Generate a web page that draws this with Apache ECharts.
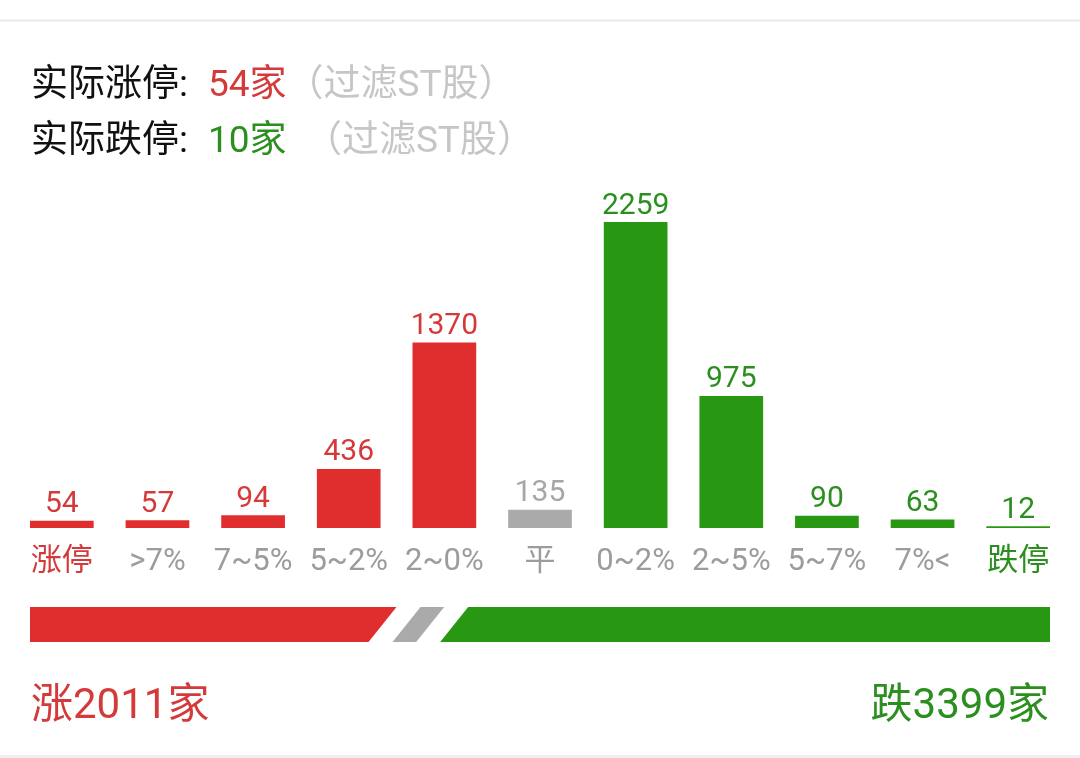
<!DOCTYPE html>
<html><head><meta charset="utf-8">
<script src="https://cdn.jsdelivr.net/npm/echarts@6/dist/echarts.min.js"></script>
<style>html,body{margin:0;padding:0;background:#fff}#c{width:1080px;height:758px}</style>
</head><body><div id="c"></div>
<script>
// ---- data ----
const categories = ['涨停', '>7%', '7~5%', '5~2%', '2~0%', '平', '0~2%', '2~5%', '5~7%', '7%<', '跌停'];
const counts = [54, 57, 94, 436, 1370, 135, 2259, 975, 90, 63, 12];
const actualLimitUp = 54;    // 实际涨停 (过滤ST股)
const actualLimitDown = 10;  // 实际跌停 (过滤ST股)
const flatLabel = '平';

// ---- derived ----
const flatIdx = categories.indexOf(flatLabel);
const upTotal = counts.slice(0, flatIdx).reduce((a, b) => a + b, 0);
const flatTotal = counts[flatIdx];
const downTotal = counts.slice(flatIdx + 1).reduce((a, b) => a + b, 0);
const totals = [upTotal, flatTotal, downTotal];
const splitData = [];
let acc = 0;
totals.forEach((v, i) => { splitData.push([acc, acc + v, i]); acc += v; });

// ---- styles ----
const RED = '#e02e2e', GREEN = '#289812', GRAY = '#aaaaaa';
const RED_T = '#d43a3a', GREEN_T = '#2b8f1f', GRAY_T = '#a6a6a6';
const FONT = 'Roboto, "Noto Sans CJK SC", sans-serif';
const FW = 'normal';
const sideColor = i => i < flatIdx ? RED : (i === flatIdx ? GRAY : GREEN);
const valueColor = i => i < flatIdx ? RED_T : (i === flatIdx ? GRAY_T : GREEN_T);

const chart = echarts.init(document.getElementById('c'), null, { renderer: 'canvas' });
const rs = (c, pad) => ({ fontSize: 37, color: c, fontFamily: FONT, fontWeight: FW, padding: pad || 0 });
const richTitle = { b: rs('#111111'), r: rs(RED_T, [0, 0, 0, 20]), gr: rs(GREEN_T, [0, 0, 0, 20]), g: rs('#c6c6c6') };
const option = {
  backgroundColor: '#ffffff',
  animation: false,
  textStyle: { fontFamily: FONT },
  title: [
    { left: 31, top: 68, padding: 0, text: `{b|实际涨停:}{r|${actualLimitUp}家}{g|（过滤ST股）}`, textStyle: { fontWeight: FW, rich: richTitle } },
    { left: 31, top: 124, padding: 0, text: `{b|实际跌停:}{gr|${actualLimitDown}家}{g|  （过滤ST股）}`, textStyle: { fontWeight: FW, rich: richTitle } },
    { left: 31, top: 686, padding: 0, text: `涨${upTotal}家`, textStyle: { fontSize: 42, fontWeight: FW, color: RED_T, fontFamily: FONT } },
    { right: 31, top: 686, padding: 0, text: `跌${downTotal}家`, textStyle: { fontSize: 42, fontWeight: FW, color: GREEN_T, fontFamily: FONT } }
  ],
  grid: [
    { left: 14, right: 14, top: 222, bottom: 230 },
    { left: 30, right: 30, top: 607, height: 35 }
  ],
  xAxis: [
    {
      type: 'category', gridIndex: 0, data: categories,
      axisLine: { show: false }, axisTick: { show: false }, splitLine: { show: false },
      axisLabel: {
        interval: 0, fontSize: 31, margin: 19, fontFamily: FONT, fontWeight: FW,
        color: (v, i) => i === 0 ? RED_T : (i === categories.length - 1 ? GREEN_T : '#9c9c9c')
      }
    },
    { type: 'value', gridIndex: 1, min: 0, max: acc, show: false }
  ],
  yAxis: [
    { type: 'value', gridIndex: 0, min: 0, max: Math.max(...counts), show: false },
    { type: 'category', gridIndex: 1, data: [''], show: false }
  ],
  series: [
    {
      type: 'bar', xAxisIndex: 0, yAxisIndex: 0, barWidth: '66.6%',
      data: counts.map((v, i) => ({ value: v, itemStyle: { color: sideColor(i) }, label: { color: valueColor(i) } })),
      label: { show: true, position: 'top', distance: 1, fontSize: 30, fontFamily: FONT, fontWeight: FW }
    },
    {
      type: 'custom', xAxisIndex: 1, yAxisIndex: 1, data: splitData,
      renderItem: function (params, api) {
        const cs = params.coordSys;
        const G = 24, S = 28;
        const n = totals.length;
        const scale = (cs.width - (n - 1) * G) / cs.width;
        const i = api.value(2);
        const px = v => cs.x + (api.coord([v, 0])[0] - cs.x) * scale + i * G;
        const x0 = px(api.value(0)), x1 = px(api.value(1));
        const top = cs.y, bot = cs.y + cs.height;
        let pts;
        if (i === 0) pts = [[x0, top], [x1 + S / 2, top], [x1 - S / 2, bot], [x0, bot]];
        else if (i === n - 1) pts = [[x0 + S / 2, top], [x1, top], [x1, bot], [x0 - S / 2, bot]];
        else pts = [[x0 + S / 2, top], [x1 + S / 2, top], [x1 - S / 2, bot], [x0 - S / 2, bot]];
        return { type: 'polygon', shape: { points: pts }, style: { fill: [RED, GRAY, GREEN][i] } };
      }
    }
  ],
  graphic: [
    { type: 'rect', shape: { x: 0, y: 19.5, width: 1080, height: 2 }, style: { fill: '#ebebeb' }, silent: true },
    { type: 'rect', shape: { x: 0, y: 755, width: 1080, height: 3 }, style: { fill: '#f0f0f0' }, silent: true }
  ]
};
chart.setOption(option);
</script>
</body></html>
